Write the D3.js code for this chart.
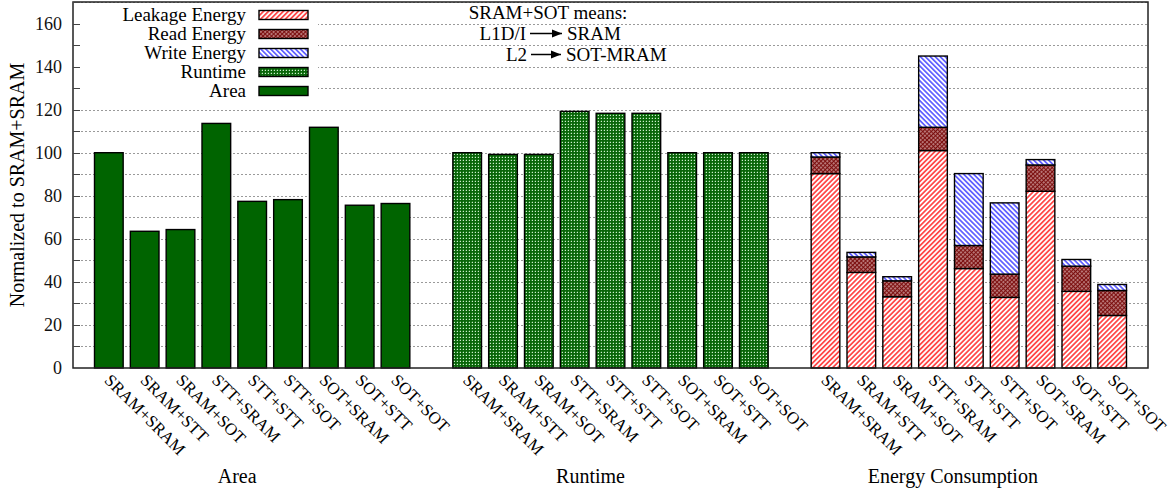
<!DOCTYPE html>
<html>
<head>
<meta charset="utf-8">
<script src="https://cdn.jsdelivr.net/npm/d3@7"></script>
<style>
  html, body { margin: 0; padding: 0; background: #fff; }
  svg { display: block; font-family: "Liberation Serif", "Times New Roman", serif; }
</style>
</head>
<body>
<svg id="chart" width="1174" height="491"></svg>
<script>
// Memory configurations (L1D/I + L2)
const categories = ["SRAM+SRAM", "SRAM+STT", "SRAM+SOT", "STT+SRAM", "STT+STT", "STT+SOT", "SOT+SRAM", "SOT+STT", "SOT+SOT"];
const groupNames = ["Area", "Runtime", "Energy Consumption"];

// Values normalized to SRAM+SRAM (= 100)
const areaValues = [100, 63.5, 64.3, 113.6, 77.4, 78.2, 111.8, 75.6, 76.4];
const runtimeValues = [100, 99.2, 99.2, 119.2, 118.3, 118.3, 100, 100, 100];
const leakageEnergy = [90.3, 44.4, 33.1, 101.0, 46.2, 32.8, 82.1, 35.6, 24.4];
const readEnergy = [7.7, 7.2, 7.4, 10.8, 10.7, 10.8, 12.2, 11.7, 11.6];
const writeEnergy = [2.0, 2.1, 1.9, 33.1, 33.4, 33.1, 2.5, 3.1, 2.8];

const yTicks = [0, 20, 40, 60, 80, 100, 120, 140, 160];
const yGrid = d3.range(10, 171, 10);

const svg = d3.select("#chart");
const plotL = 73, plotR = 1148, plotT = 2, plotB = 368;

// one slot per bar, one empty slot between the three groups
const x = d3.scaleLinear().domain([-1, 29]).range([plotL, plotR]);
const y = d3.scaleLinear().domain([0, 170]).range([plotB, plotT]);
const slotW = x(1) - x(0);
const barW = slotW * 0.8;
const slot = (g, i) => g * 10 + i;

// ---- fill patterns ----
const defs = svg.append("defs");
function hatch(id, color, angle, period, width, bg) {
  const p = defs.append("pattern").attr("id", id).attr("patternUnits", "userSpaceOnUse")
    .attr("width", period).attr("height", period)
    .attr("patternTransform", `rotate(${angle})`);
  p.append("rect").attr("width", period).attr("height", period).attr("fill", bg);
  p.append("line").attr("x1", period / 2).attr("x2", period / 2).attr("y1", 0).attr("y2", period)
    .attr("stroke", color).attr("stroke-width", width);
}
hatch("leak", "#ff0000", 45, 3.5, 1.25, "#fff");
hatch("write", "#1a1aff", -45, 3.5, 1.2, "#fff");
{
  const p = defs.append("pattern").attr("id", "read").attr("patternUnits", "userSpaceOnUse")
    .attr("width", 3).attr("height", 3).attr("patternTransform", "rotate(45)");
  p.append("rect").attr("width", 3).attr("height", 3).attr("fill", "#c89090");
  p.append("line").attr("x1", 1.5).attr("x2", 1.5).attr("y1", 0).attr("y2", 3).attr("stroke", "#7a0c0c").attr("stroke-width", 1.4);
  p.append("line").attr("y1", 1.5).attr("y2", 1.5).attr("x1", 0).attr("x2", 3).attr("stroke", "#7a0c0c").attr("stroke-width", 0.9);
}
{
  const p = defs.append("pattern").attr("id", "run").attr("patternUnits", "userSpaceOnUse")
    .attr("width", 3).attr("height", 3);
  p.append("rect").attr("width", 3).attr("height", 3).attr("fill", "#0a640a");
  p.append("rect").attr("x", 1).attr("y", 1).attr("width", 1).attr("height", 1).attr("fill", "#cfe8cf");
  p.append("rect").attr("x", 0).attr("y", 1).attr("width", 1).attr("height", 1).attr("fill", "#2f8f2f");
  p.append("rect").attr("x", 1).attr("y", 0).attr("width", 1).attr("height", 1).attr("fill", "#2f8f2f");
}
const areaFill = "#006400";

// ---- grid ----
svg.append("g").selectAll("line").data(yGrid).join("line")
  .attr("x1", plotL).attr("x2", plotR)
  .attr("y1", d => Math.round(y(d)) + 0.5).attr("y2", d => Math.round(y(d)) + 0.5)
  .attr("stroke", "#9a9a9a").attr("stroke-width", 1).attr("stroke-dasharray", "2,2");

// ---- bars ----
const bars = svg.append("g").attr("stroke", "#000").attr("stroke-width", 1.4);
bars.append("g").selectAll("rect").data(areaValues).join("rect")
  .attr("x", (d, i) => x(slot(0, i)) - barW / 2).attr("width", barW)
  .attr("y", d => y(d)).attr("height", d => y(0) - y(d)).attr("fill", areaFill);
bars.append("g").selectAll("rect").data(runtimeValues).join("rect")
  .attr("x", (d, i) => x(slot(1, i)) - barW / 2).attr("width", barW)
  .attr("y", d => y(d)).attr("height", d => y(0) - y(d)).attr("fill", "url(#run)");

const energyRows = categories.map((c, i) => ({ leak: leakageEnergy[i], read: readEnergy[i], write: writeEnergy[i] }));
const stack = d3.stack().keys(["leak", "read", "write"])(energyRows);
stack.forEach(layer => {
  bars.append("g").selectAll("rect").data(layer).join("rect")
    .attr("x", (d, i) => x(slot(2, i)) - barW / 2).attr("width", barW)
    .attr("y", d => y(d[1])).attr("height", d => y(d[0]) - y(d[1]))
    .attr("fill", `url(#${layer.key})`);
});

// ---- legend ----
const legendItems = [
  { label: "Leakage Energy", fill: "url(#leak)" },
  { label: "Read Energy", fill: "url(#read)" },
  { label: "Write Energy", fill: "url(#write)" },
  { label: "Runtime", fill: "url(#run)" },
  { label: "Area", fill: areaFill }
];
svg.append("rect").attr("x", plotL + 1).attr("y", plotT + 1).attr("width", 244).attr("height", 101).attr("fill", "#fff");
const lg = svg.append("g").selectAll("g").data(legendItems).join("g")
  .attr("transform", (d, i) => `translate(0, ${15 + i * 19})`);
lg.append("text").attr("x", 246).attr("y", 6).attr("text-anchor", "end")
  .attr("font-size", 19).text(d => d.label);
lg.append("rect").attr("x", 259).attr("y", -4.5).attr("width", 49).attr("height", 9)
  .attr("fill", d => d.fill).attr("stroke", "#000").attr("stroke-width", 1.4);

// ---- frame and axes ----
svg.append("rect").attr("x", plotL).attr("y", plotT).attr("width", plotR - plotL).attr("height", plotB - plotT)
  .attr("fill", "none").attr("stroke", "#222").attr("stroke-width", 1.5);
const yAxis = d3.axisLeft(y).tickValues(yTicks).tickSize(0).tickPadding(11);
const ga = svg.append("g").attr("transform", `translate(${plotL},0)`).call(yAxis);
ga.select(".domain").remove();
ga.selectAll("text").attr("font-size", 18).attr("font-family", "Liberation Serif").attr("fill", "#111");
svg.append("g").selectAll("line").data(yGrid).join("line")
  .attr("x1", plotL).attr("x2", plotL + 7)
  .attr("y1", d => Math.round(y(d)) + 0.5).attr("y2", d => Math.round(y(d)) + 0.5)
  .attr("stroke", "#444").attr("stroke-width", 1);

svg.append("text").attr("transform", "translate(24,185) rotate(-90)")
  .attr("text-anchor", "middle").attr("font-size", 20).text("Normalized to SRAM+SRAM");

// ---- category labels ----
const groupLabelShift = [-15, -20, -16];
const xl = svg.append("g");
groupNames.forEach((g, gi) => {
  xl.append("g").selectAll("text").data(categories).join("text")
    .attr("transform", (d, i) => `translate(${x(slot(gi, i)) + 2},${374}) rotate(45)`)
    .attr("font-size", 17).attr("dy", "0.6em").text(d => d);
  xl.append("text").attr("x", x(slot(gi, 4)) + groupLabelShift[gi]).attr("y", 483)
    .attr("text-anchor", "middle").attr("font-size", 20).text(g);
});

// ---- annotation ----
defs.append("marker").attr("id", "arrow").attr("viewBox", "0 0 10 10").attr("refX", 10).attr("refY", 5)
  .attr("markerWidth", 10).attr("markerHeight", 10).attr("markerUnits", "userSpaceOnUse").attr("orient", "auto")
  .append("path").attr("d", "M0,1 L10,5 L0,9 z").attr("fill", "#000");
const an = svg.append("g").attr("font-size", 19);
an.append("text").attr("x", 548).attr("y", 19).attr("text-anchor", "middle").text("SRAM+SOT means:");
an.append("text").attr("x", 526).attr("y", 40).attr("text-anchor", "end").text("L1D/I");
an.append("line").attr("x1", 530).attr("x2", 562).attr("y1", 33.5).attr("y2", 33.5).attr("stroke", "#000").attr("stroke-width", 1.5).attr("marker-end", "url(#arrow)");
an.append("text").attr("x", 567).attr("y", 40).text("SRAM");
an.append("text").attr("x", 527).attr("y", 61).attr("text-anchor", "end").text("L2");
an.append("line").attr("x1", 531).attr("x2", 561).attr("y1", 54.5).attr("y2", 54.5).attr("stroke", "#000").attr("stroke-width", 1.5).attr("marker-end", "url(#arrow)");
an.append("text").attr("x", 566).attr("y", 61).text("SOT-MRAM");
</script>
</body>
</html>
